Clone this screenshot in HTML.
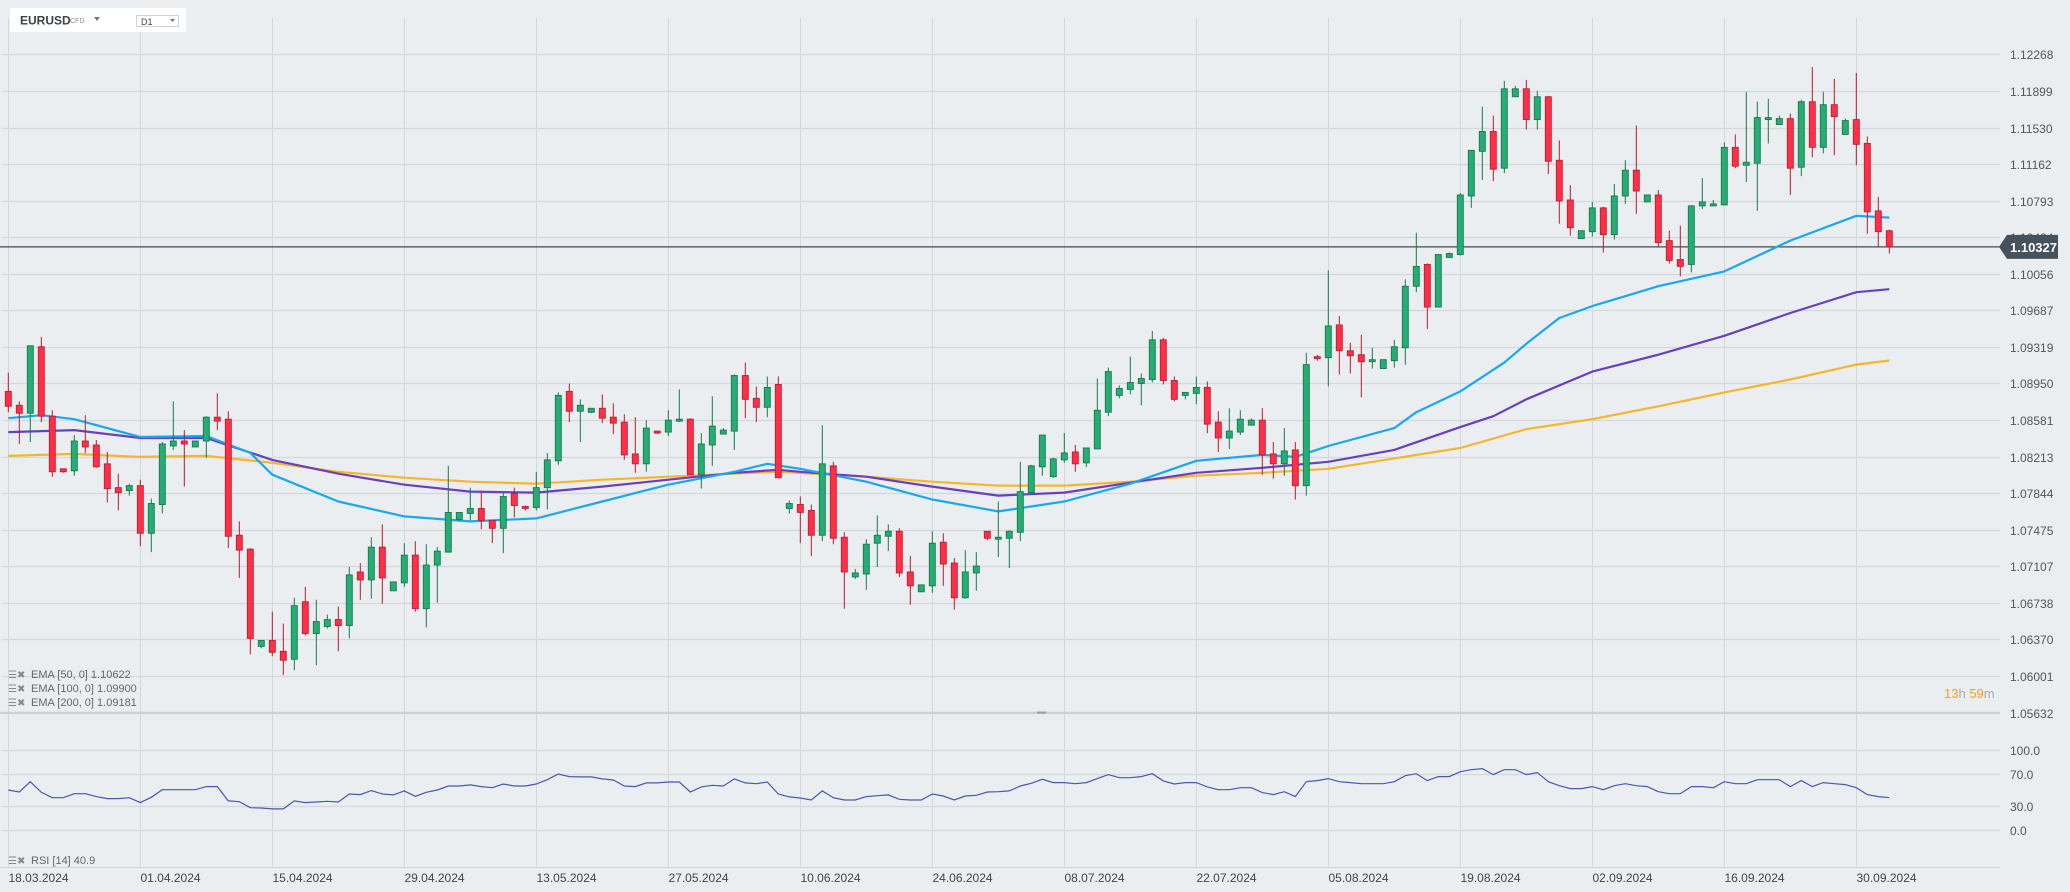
<!DOCTYPE html>
<html><head><meta charset="utf-8"><style>
html,body{margin:0;padding:0;background:#ebeef1;}
svg{display:block;font-family:"Liberation Sans",sans-serif;}
</style></head><body>
<svg id="chart" width="2070" height="892" viewBox="0 0 2070 892" xmlns="http://www.w3.org/2000/svg">
<rect x="0" y="0" width="2070" height="892" fill="#ebeef1"/>
<g id="grid"></g>
<g id="emas"></g>
<g id="candles"></g>
<g id="rsi"></g>
<g id="axes"></g>
<g>
  <rect x="10" y="8" width="176" height="24" fill="#ffffff"/>
  <text x="20" y="24.5" font-size="12" font-weight="bold" fill="#3a4248">EURUSD</text>
  <text x="70" y="23" font-size="7" fill="#8a9196">CFD</text>
  <path d="M94 17 L100 17 L97 21 Z" fill="#777"/>
  <rect x="136.5" y="15.5" width="42" height="11" fill="#fff" stroke="#cfd4d8"/>
  <text x="141" y="25" font-size="9" fill="#444">D1</text>
  <path d="M170 19 L175 19 L172.5 22 Z" fill="#777"/>
</g>
<g font-size="11" fill="#666">
  <text x="8" y="678" font-size="10" fill="#888">☰✖</text>
  <text x="31" y="678">EMA [50, 0] 1.10622</text>
  <text x="8" y="692" font-size="10" fill="#888">☰✖</text>
  <text x="31" y="692">EMA [100, 0] 1.09900</text>
  <text x="8" y="706" font-size="10" fill="#888">☰✖</text>
  <text x="31" y="706">EMA [200, 0] 1.09181</text>
  <text x="8" y="864" font-size="10" fill="#888">☰✖</text>
  <text x="31" y="864">RSI [14] 40.9</text>
</g>
<g font-size="13">
  <text x="1944" y="698"><tspan fill="#f5a01a">13</tspan><tspan fill="#aaa">h </tspan><tspan fill="#f5a01a">59</tspan><tspan fill="#aaa">m</tspan></text>
</g>
<rect x="1037" y="711.5" width="9" height="2" fill="#999"/>
</svg>
<script>
const openP=[1.0887,1.0873,1.0865,1.0932,1.0862,1.0809,1.0807,1.0837,1.0833,1.0814,
1.0790,1.0787,1.0792,1.0744,1.0773,1.0832,1.0837,1.0831,1.0837,1.0861,
1.0859,1.0742,1.0728,1.0630,1.0636,1.0625,1.0617,1.0675,1.0643,1.0650,
1.0657,1.0651,1.0705,1.0697,1.0730,1.0686,1.0694,1.0722,1.0668,1.0712,
1.0725,1.0758,1.0764,1.0769,1.0757,1.0749,1.0784,1.0771,1.0770,1.0790,
1.0817,1.0887,1.0867,1.0866,1.0870,1.0861,1.0856,1.0824,1.0814,1.0847,
1.0846,1.0857,1.0859,1.0803,1.0833,1.0844,1.0847,1.0903,1.0880,1.0871,
1.0894,1.0769,1.0773,1.0767,1.0742,1.0812,1.0740,1.0700,1.0703,1.0734,
1.0741,1.0746,1.0705,1.0685,1.0691,1.0735,1.0714,1.0679,1.0704,1.0746,
1.0738,1.0739,1.0745,1.0785,1.0811,1.0801,1.0818,1.0826,1.0815,1.0829,
1.0866,1.0883,1.0889,1.0895,1.0899,1.0939,1.0898,1.0883,1.0885,1.0891,
1.0856,1.0840,1.0846,1.0853,1.0858,1.0824,1.0814,1.0828,1.0792,1.0922,
1.0921,1.0954,1.0928,1.0924,1.0917,1.0910,1.0918,1.0931,1.0993,1.1015,
1.0972,1.1022,1.1025,1.1084,1.1129,1.1149,1.1112,1.1184,1.1192,1.1161,
1.1184,1.1120,1.1080,1.1041,1.1048,1.1072,1.1045,1.1084,1.1110,1.1078,
1.1085,1.1039,1.1020,1.1015,1.1074,1.1074,1.1075,1.1133,1.1115,1.1117,
1.1161,1.1156,1.1162,1.1113,1.1179,1.1133,1.1176,1.1146,1.1161,1.1137,
1.1069,1.1049];
const highP=[1.0906,1.0877,1.0933,1.0942,1.0868,1.0809,1.0843,1.0863,1.0838,1.0826,
1.0804,1.0794,1.0798,1.0779,1.0836,1.0877,1.0848,1.0837,1.0862,1.0885,
1.0867,1.0756,1.0729,1.0636,1.0665,1.0653,1.0679,1.0690,1.0677,1.0662,
1.0670,1.0710,1.0714,1.0740,1.0753,1.0695,1.0734,1.0736,1.0733,1.0730,
1.0812,1.0765,1.0790,1.0787,1.0757,1.0785,1.0790,1.0772,1.0806,1.0825,
1.0886,1.0895,1.0879,1.0870,1.0884,1.0875,1.0864,1.0861,1.0858,1.0847,
1.0868,1.0889,1.0860,1.0845,1.0882,1.0850,1.0904,1.0916,1.0892,1.0902,
1.0902,1.0777,1.0781,1.0773,1.0853,1.0816,1.0745,1.0708,1.0738,1.0762,
1.0753,1.0749,1.0721,1.0692,1.0746,1.0744,1.0719,1.0727,1.0725,1.0746,
1.0776,1.0747,1.0816,1.0813,1.0843,1.0820,1.0845,1.0833,1.0830,1.0900,
1.0911,1.0893,1.0922,1.0905,1.0948,1.0941,1.0902,1.0886,1.0902,1.0897,
1.0867,1.0870,1.0868,1.0860,1.0870,1.0836,1.0850,1.0836,1.0926,1.0924,
1.1009,1.0963,1.0936,1.0944,1.0931,1.0919,1.0939,1.1000,1.1047,1.1016,
1.1025,1.1027,1.1087,1.1130,1.1174,1.1165,1.1200,1.1195,1.1201,1.1190,
1.1185,1.1140,1.1095,1.1049,1.1078,1.1073,1.1096,1.1120,1.1155,1.1085,
1.1090,1.1049,1.1054,1.1075,1.1102,1.1080,1.1138,1.1146,1.1189,1.1179,
1.1182,1.1165,1.1167,1.1181,1.1214,1.1189,1.1202,1.1162,1.1208,1.1144,
1.1083,1.1050];
const lowP=[1.0866,1.0834,1.0836,1.0856,1.0801,1.0805,1.0802,1.0825,1.0810,1.0775,
1.0767,1.0782,1.0731,1.0725,1.0764,1.0828,1.0791,1.0831,1.0820,1.0848,
1.0729,1.0699,1.0622,1.0628,1.0620,1.0601,1.0606,1.0641,1.0611,1.0648,
1.0625,1.0638,1.0677,1.0678,1.0673,1.0686,1.0690,1.0665,1.0649,1.0674,
1.0725,1.0756,1.0757,1.0748,1.0734,1.0724,1.0760,1.0767,1.0767,1.0768,
1.0813,1.0856,1.0836,1.0865,1.0855,1.0844,1.0818,1.0805,1.0806,1.0844,
1.0842,1.0856,1.0803,1.0789,1.0812,1.0844,1.0828,1.0860,1.0856,1.0861,
1.0800,1.0764,1.0734,1.0721,1.0736,1.0733,1.0668,1.0698,1.0687,1.0710,
1.0726,1.0700,1.0672,1.0685,1.0684,1.0691,1.0667,1.0678,1.0686,1.0737,
1.0720,1.0709,1.0736,1.0784,1.0802,1.0800,1.0815,1.0806,1.0811,1.0829,
1.0862,1.0880,1.0884,1.0873,1.0896,1.0894,1.0877,1.0879,1.0874,1.0845,
1.0826,1.0829,1.0843,1.0853,1.0803,1.0799,1.0802,1.0778,1.0782,1.0918,
1.0892,1.0904,1.0905,1.0881,1.0910,1.0910,1.0911,1.0914,1.0987,1.0950,
1.0972,1.1022,1.1024,1.1072,1.1100,1.1099,1.1107,1.1184,1.1151,1.1151,
1.1106,1.1056,1.1044,1.1041,1.1043,1.1027,1.1040,1.1076,1.1066,1.1078,
1.1033,1.1016,1.1003,1.1007,1.1071,1.1074,1.1075,1.1112,1.1098,1.1069,
1.1137,1.1156,1.1085,1.1104,1.1123,1.1127,1.1125,1.1146,1.1115,1.1046,
1.1033,1.1026];
const closeP=[1.0872,1.0865,1.0933,1.0862,1.0806,1.0806,1.0837,1.0831,1.0811,1.0789,
1.0785,1.0792,1.0744,1.0774,1.0834,1.0837,1.0834,1.0837,1.0861,1.0857,
1.0741,1.0727,1.0638,1.0636,1.0624,1.0616,1.0671,1.0643,1.0655,1.0657,
1.0651,1.0702,1.0697,1.0730,1.0699,1.0695,1.0722,1.0668,1.0712,1.0726,
1.0765,1.0765,1.0769,1.0757,1.0749,1.0781,1.0772,1.0769,1.0790,1.0818,
1.0883,1.0867,1.0873,1.0870,1.0860,1.0855,1.0823,1.0814,1.0850,1.0845,
1.0858,1.0859,1.0803,1.0834,1.0852,1.0848,1.0903,1.0879,1.0871,1.0891,
1.0800,1.0774,1.0765,1.0742,1.0814,1.0739,1.0705,1.0704,1.0733,1.0742,
1.0746,1.0704,1.0691,1.0692,1.0734,1.0713,1.0679,1.0705,1.0711,1.0739,
1.0740,1.0746,1.0786,1.0812,1.0843,1.0819,1.0825,1.0814,1.0830,1.0868,
1.0907,1.0890,1.0896,1.0900,1.0939,1.0898,1.0879,1.0886,1.0891,1.0854,
1.0840,1.0847,1.0859,1.0858,1.0823,1.0814,1.0827,1.0792,1.0914,1.0920,
1.0953,1.0928,1.0923,1.0917,1.0919,1.0919,1.0932,1.0993,1.1013,1.0972,
1.1025,1.1026,1.1085,1.1130,1.1149,1.1111,1.1192,1.1192,1.1161,1.1184,
1.1119,1.1079,1.1052,1.1049,1.1072,1.1045,1.1084,1.1110,1.1089,1.1085,
1.1037,1.1019,1.1013,1.1074,1.1078,1.1076,1.1133,1.1114,1.1118,1.1163,
1.1163,1.1162,1.1112,1.1179,1.1133,1.1176,1.1164,1.1160,1.1136,1.1068,
1.1048,1.1033];
const ema50Idx=[0,3,6,12,18,22,24,30,36,42,48,54,60,66,69,72,78,84,90,96,102,108,114,117,120,126,128,132,136,138,141,144,150,156,162,168,171];
const ema50=[1.0860,1.0863,1.0859,1.0841,1.0842,1.0825,1.0803,1.0776,1.0761,1.0756,1.0759,1.0776,1.0793,1.0806,1.0814,1.0809,1.0796,1.0778,1.0766,1.0776,1.0794,1.0817,1.0823,1.0821,1.0832,1.0850,1.0866,1.0887,1.0916,1.0935,1.0961,1.0973,1.0993,1.1008,1.1039,1.1064,1.10622];
const ema100Idx=[0,6,12,18,24,30,36,42,48,54,60,66,70,72,78,84,90,96,102,108,114,120,126,132,135,138,144,150,156,162,168,171];
const ema100=[1.0846,1.0848,1.0840,1.0840,1.0818,1.0804,1.0793,1.0786,1.0785,1.0791,1.0798,1.0805,1.0808,1.0806,1.0801,1.0791,1.0782,1.0785,1.0795,1.0805,1.0810,1.0816,1.0828,1.0851,1.0862,1.0879,1.0907,1.0924,1.0943,1.0966,1.0987,1.0990];
const ema200Idx=[0,6,12,18,24,30,36,42,48,54,60,66,70,78,84,90,96,102,108,114,120,132,138,144,150,156,162,168,171];
const ema200=[1.0822,1.0824,1.0821,1.0822,1.0815,1.0806,1.0800,1.0796,1.0794,1.0798,1.0801,1.0804,1.0806,1.0801,1.0796,1.0792,1.0792,1.0796,1.0802,1.0805,1.0809,1.0830,1.0849,1.0859,1.0872,1.0886,1.0899,1.0914,1.09181];
const rsiVals=[50.4,47.9,60.8,47.5,40.8,40.8,45.8,45.8,42.1,39.6,39.6,40.8,34.6,41.3,50.8,50.8,50.8,50.8,54.6,54.6,
36.7,35.8,28.3,27.9,26.7,26.7,36.7,34.6,35.4,36.3,35.4,45.4,44.6,49.6,45.4,44.2,49.2,42.5,47.5,50.4,
55.4,55.4,56.7,54.6,53.3,57.9,55.4,55.4,57.9,63.3,70.4,67.1,66.7,66.7,64.2,62.9,55.4,54.6,59.2,59.2,
60.4,60.4,47.9,54.2,56.3,55.4,64.2,59.2,58.3,60.4,45.4,41.7,40.4,37.9,49.2,40.8,37.9,37.9,42.1,43.3,
44.2,38.8,37.9,37.9,45.4,42.9,37.9,42.9,43.8,47.9,48.3,49.2,55.4,58.8,
63.8,59.6,59.6,58.3,59.6,64.6,69.6,65.8,65.8,67.1,70.8,61.7,57.9,59.6,59.6,54.2,50.8,50.8,53.3,53.3,
47.1,44.6,48.3,42.1,60.8,62.1,64.6,60.8,59.6,58.3,58.3,58.3,60.8,68.3,70.8,62.1,67.1,67.1,73.3,75.8,
77.1,69.6,75.8,75.8,69.6,72.1,60.8,55.8,52.1,52.1,54.6,50.8,55.8,58.3,55.8,54.6,48.3,45.8,45.8,54.6,
54.6,53.3,60.8,58.3,58.3,63.3,63.3,63.3,54.6,62.1,54.6,59.6,58.3,57.1,53.3,44.6,42.1,40.8];
const priceTicks=[1.12268,1.11899,1.11530,1.11162,1.10793,1.10424,1.10056,1.09687,1.09319,1.08950,1.08581,1.08213,1.07844,1.07475,1.07107,1.06738,1.06370,1.06001,1.05632];
const dateLabels=["18.03.2024","01.04.2024","15.04.2024","29.04.2024","13.05.2024","27.05.2024","10.06.2024","24.06.2024","08.07.2024","22.07.2024","05.08.2024","19.08.2024","02.09.2024","16.09.2024","30.09.2024"];
const rsiTicks=[100,70,30,0];
const lastPrice=1.10327;

const NS="http://www.w3.org/2000/svg";
function xOf(i){return 8.3+11*i;}
function yOf(p){return 54.3+(1.12268-p)/0.0001008;}
function yR(v){return 830.3-0.8*v;}
function mk(tag,attrs,parent){const e=document.createElementNS(NS,tag);for(const k in attrs)e.setAttribute(k,attrs[k]);parent.appendChild(e);return e;}

const grid=document.getElementById('grid');
const axes=document.getElementById('axes');
dateLabels.forEach((d,k)=>{
  const x=Math.round(xOf(k*12))+0.5;
  const l=mk('line',{x1:x,y1:18,x2:x,y2:867,stroke:'#d3d8dc','stroke-width':1},grid);
  
  
  const t=mk('text',{x:x,y:882,'font-size':12,fill:'#444'},axes);
  t.textContent=d;
  
  
});
priceTicks.forEach(p=>{
  const y=Math.round(yOf(p))+0.5;
  const l=mk('line',{x1:2,y1:y,x2:2000,y2:y,stroke:'#d3d8dc','stroke-width':1.2},grid);
  
  
  const t=mk('text',{x:2010,y:y+4.5,'font-size':12,fill:'#555'},axes);
  t.textContent=p.toFixed(5);
  
  
});
rsiTicks.forEach(v=>{
  const y=Math.round(yR(v))+0.5;
  const l=mk('line',{x1:2,y1:y,x2:2000,y2:y,stroke:'#d3d8dc','stroke-width':1.2},grid);
  
  
  const t=mk('text',{x:2010,y:y+4.5,'font-size':12,fill:'#555'},axes);
  t.textContent=v.toFixed(1);
  
  
});
const sep=mk('line',{x1:0,y1:712.8,x2:2000,y2:712.8,stroke:'#c9cfd4','stroke-width':2},grid);


const bl=mk('line',{x1:0,y1:867.5,x2:2000,y2:867.5,stroke:'#cfd4d8','stroke-width':1},grid);



const emas=document.getElementById('emas');
[[ema200Idx,ema200,'#f7b52c','ema200-line'],[ema100Idx,ema100,'#6a3fbf','ema100-line'],[ema50Idx,ema50,'#18a8ef','ema50-line']].forEach(([ix,vals,col,name])=>{
  const pts=ix.map((i,k)=>xOf(i).toFixed(1)+','+yOf(vals[k]).toFixed(1)).join(' ');
  const pl=mk('polyline',{points:pts,fill:'none',stroke:col,'stroke-width':2.2,'stroke-linejoin':'round'},emas);
  
  
});

const cp=mk('line',{x1:0,y1:yOf(lastPrice),x2:2000,y2:yOf(lastPrice),stroke:'#3f4a52','stroke-width':1.3},grid);



const cg=document.getElementById('candles');
openP.forEach((o,i)=>{
  const c=closeP[i],h=highP[i],l=lowP[i];
  const up=c>=o;
  const x=xOf(i);
  const w=mk('line',{x1:x,y1:yOf(h),x2:x,y2:yOf(l),stroke:up?'#17794b':'#b51a2d','stroke-width':1},cg);
  
  
  const top=yOf(Math.max(o,c)),bot=yOf(Math.min(o,c));
  const b=mk('rect',{x:x-3,y:top,width:6,height:Math.max(bot-top,1.5),fill:up?'#24ae73':'#fe2f47',stroke:up?'#19784d':'#bf1d31','stroke-width':0.9},cg);
  
  
});

const rg=document.getElementById('rsi');
const rp=mk('polyline',{points:rsiVals.map((v,i)=>xOf(i).toFixed(1)+','+yR(v).toFixed(1)).join(' '),fill:'none',stroke:'#4b56b0','stroke-width':1.2},rg);



const ty=yOf(lastPrice);
const tag=mk('path',{d:`M1999 ${ty} L2007 ${ty-12} L2058 ${ty-12} L2058 ${ty+12} L2007 ${ty+12} Z`,fill:'#45525b'},axes);


const tt=mk('text',{x:2010,y:ty+5,'font-size':13,'font-weight':'bold',fill:'#ffffff'},axes);
tt.textContent=lastPrice.toFixed(5);


</script>
</body></html>
